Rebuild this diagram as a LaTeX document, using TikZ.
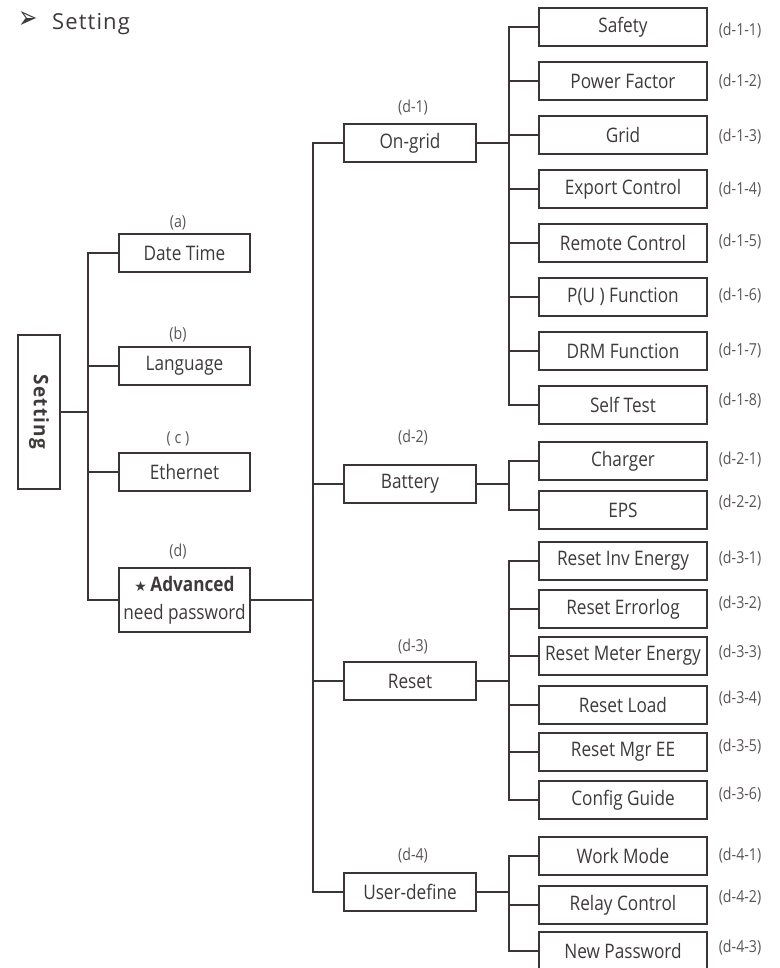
\documentclass[tikz,border=0pt]{standalone}
\usepackage{fontspec}
\setmainfont{Open Sans}[FakeStretch=0.86]
\newfontfamily\titlefont{Open Sans}[LetterSpace=5]
\newfontfamily\rootfont{Open Sans}[LetterSpace=6,FakeStretch=0.95]
\newfontfamily\symfont{DejaVu Sans}
\definecolor{txt}{HTML}{3E3A3A}
\definecolor{ln}{HTML}{3A3434}
\definecolor{lbl}{HTML}{5A5555}
\begin{document}
\begin{tikzpicture}[x=1pt,y=-1pt,
  box/.style={draw=ln, line width=1.4pt, inner sep=0pt, text=txt, font=\fontsize{20}{22}\selectfont},
  leaf/.style={box, minimum width=168pt, minimum height=38pt},
  mid/.style={box, minimum width=132pt, minimum height=38pt},
  lft/.style={box, minimum width=131pt, minimum height=38pt},
  tag/.style={text=lbl, font=\fontsize{16.5}{18}\selectfont, inner sep=0pt},
  wire/.style={draw=ln, line width=1.2pt}]
\useasboundingbox (0,0) rectangle (779,968);
\fill[white] (0,0) rectangle (779,968);

% title
\node[anchor=base west, inner sep=0pt, text=txt] (arrow) at (18,29) {\scalebox{1.15}[1.6]{\symfont\fontsize{20}{20}\selectfont ➢}};
\node[anchor=base west, inner sep=0pt, text=txt] (title) at (52,30) {\titlefont\fontsize{22}{24}\selectfont Setting};

% root
\node[box, minimum width=42pt, minimum height=154pt] (setting) at (39,412) {\rotatebox{-90}{\rootfont\fontsize{20}{22}\selectfont\bfseries Setting}};

% level 1
\node[lft] (datetime) at (184.5,253) {Date Time};
\node[lft] (language) at (184.5,366) {Language};
\node[lft] (ethernet) at (184.5,472) {Ethernet};
\node[box, minimum width=131pt, minimum height=64pt, align=center, font=\fontsize{20}{28}\selectfont] (advanced) at (184.5,600)
  {{\symfont\fontsize{14}{14}\selectfont ★}\,\textbf{Advanced}\\need password};
\node[tag] (ta) at (178,223) {(a)};
\node[tag] (tb) at (178,335) {(b)};
\node[tag] (tc) at (178,439) {( c )};
\node[tag] (td) at (178,552) {(d)};

% level 2
\node[mid] (ongrid) at (410,143) {On-grid};
\node[mid] (battery) at (410,484) {Battery};
\node[mid] (reset) at (410,681) {Reset};
\node[mid] (userdef) at (410,892) {User-define};
\node[tag] (t1) at (413,108) {(d-1)};
\node[tag] (t2) at (413,438) {(d-2)};
\node[tag] (t3) at (413,647) {(d-3)};
\node[tag] (t4) at (413,856) {(d-4)};

% level 3
\foreach \n/\y/\t/\ty/\g in {
  safety/27/Safety/31/d-1-1,
  pf/81/Power Factor/82/d-1-2,
  grid/135/Grid/137/d-1-3,
  export/189/Export Control/190/d-1-4,
  remote/243/Remote Control/242/d-1-5,
  pu/297/P(U ) Function/296/d-1-6,
  drm/351/DRM Function/351/d-1-7,
  selftest/405/Self Test/401/d-1-8,
  charger/461/Charger/460/d-2-1,
  eps/510/EPS/503/d-2-2,
  rinv/561/Reset Inv Energy/559/d-3-1,
  rerr/609/Reset Errorlog/604/d-3-2,
  rmeter/656/Reset Meter Energy/653/d-3-3,
  rload/705/Reset Load/699/d-3-4,
  rmgr/752/Reset Mgr EE/747/d-3-5,
  rconf/800/Config Guide/795/d-3-6,
  work/856/Work Mode/856/d-4-1,
  relay/905/Relay Control/898/d-4-2,
  newpw/951/New Password/948/d-4-3} {
  \node[leaf] (\n) at (623,\y) {\t};
  \node[tag] (tag-\n) at (740,\ty) {(\g)};
}

% bus coordinates
\coordinate (L) at (88,0);
\coordinate (M) at (313,0);
\coordinate (R) at (509,0);

% connectors level 1
\draw[wire] (setting.east) -- (setting.east -| L);
\draw[wire] (datetime.west) -| (advanced.west -| L) -- (advanced.west);
\draw[wire] (language.west) -- (language.west -| L);
\draw[wire] (ethernet.west) -- (ethernet.west -| L);

% connectors level 2
\draw[wire] (advanced.east) -- (advanced.east -| M);
\draw[wire] (ongrid.west) -| (userdef.west -| M) -- (userdef.west);
\draw[wire] (battery.west) -- (battery.west -| M);
\draw[wire] (reset.west) -- (reset.west -| M);
\foreach \n in {ongrid,battery,reset,userdef}
  \draw[wire] (\n.east) -- (\n.east -| R);

% connectors level 3
\draw[wire] (safety.west) -| (selftest.west -| R) -- (selftest.west);
\draw[wire] (charger.west) -| (eps.west -| R) -- (eps.west);
\draw[wire] (rinv.west) -| (rconf.west -| R) -- (rconf.west);
\draw[wire] (work.west) -| (newpw.west -| R) -- (newpw.west);
\foreach \n in {pf,grid,export,remote,pu,drm,rerr,rmeter,rload,rmgr,relay}
  \draw[wire] (\n.west) -- (\n.west -| R);
\end{tikzpicture}
\end{document}
